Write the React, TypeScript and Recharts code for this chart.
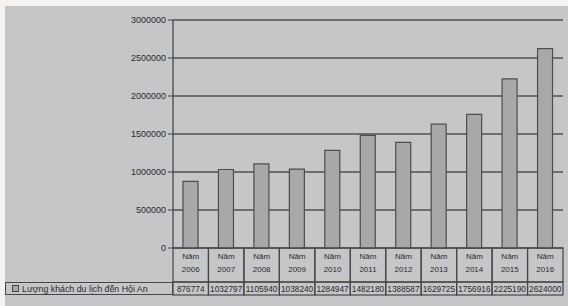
import React from 'react';
import { BarChart, Bar, XAxis, YAxis, CartesianGrid, Legend } from 'recharts';

const years = ['2006', '2007', '2008', '2009', '2010', '2011', '2012', '2013', '2014', '2015', '2016'];
const visitors = [876774, 1032797, 1105940, 1038240, 1284947, 1482180, 1388587, 1629725, 1756916, 2225190, 2624000];
const yTicks = [0, 500000, 1000000, 1500000, 2000000, 2500000, 3000000];
const seriesName = 'Lượng khách du lịch đến Hội An';
const yearPrefix = 'Năm';

const data = years.map((y, i) => ({ year: y, value: visitors[i] }));

const W = 568;
const H = 306;
const PLOT_LEFT = 173;
const PLOT_RIGHT = 563;
const PLOT_TOP = 20;
const PLOT_BOTTOM = 248;
const XAXIS_H = 48;
const BAND = (PLOT_RIGHT - PLOT_LEFT) / years.length;
const ROW1 = 34;
const ROW2 = 13;
const LINE = '#474747';
const TEXT = '#2b2b2b';
const FONT = '"Liberation Sans", Arial, sans-serif';

const TableTick = (props: any) => {
  const { x, y, payload } = props;
  const idx = years.indexOf(String(payload.value));
  const left = x - BAND / 2;
  return (
    <g>
      <rect x={left} y={y} width={BAND} height={ROW1} fill="none" stroke={LINE} strokeWidth={1.2} />
      <rect x={left} y={y + ROW1} width={BAND} height={ROW2} fill="none" stroke={LINE} strokeWidth={1.2} />
      <text x={x} y={y + 11} textAnchor="middle" fontSize={8} fill={TEXT} fontFamily={FONT}>
        {yearPrefix}
      </text>
      <text x={x} y={y + 24} textAnchor="middle" fontSize={8} fill={TEXT} fontFamily={FONT}>
        {payload.value}
      </text>
      <text x={x} y={y + ROW1 + 10} textAnchor="middle" fontSize={8.3} fill={TEXT} fontFamily={FONT}>
        {idx >= 0 ? visitors[idx] : ''}
      </text>
    </g>
  );
};

const LegendCell = () => (
  <div
    style={{
      boxSizing: 'border-box',
      width: 168,
      height: ROW2,
      border: `1.2px solid ${LINE}`,
      display: 'flex',
      alignItems: 'center',
      fontFamily: FONT,
      fontSize: 8.8,
      color: TEXT,
      paddingLeft: 6,
      whiteSpace: 'nowrap',
    }}
  >
    <span
      style={{
        display: 'inline-block',
        width: 5,
        height: 5,
        border: `1px solid ${LINE}`,
        background: '#a6a8aa',
        marginRight: 3,
      }}
    />
    {seriesName}
  </div>
);

export default function App() {
  return (
    <div style={{ position: 'fixed', left: 0, top: 0, width: W, height: H, background: '#f6f2f0', overflow: 'hidden' }}>
      <div style={{ position: 'absolute', left: 5, top: 6, right: 0, bottom: 0, background: '#c4c6c8' }} />
      <div style={{ position: 'absolute', left: 0, top: 0 }}>
        <BarChart
          width={W}
          height={H}
          data={data}
          margin={{ top: PLOT_TOP, right: W - PLOT_RIGHT, left: 0, bottom: H - PLOT_BOTTOM - XAXIS_H }}
        >
          <CartesianGrid vertical={false} stroke="#505050" strokeWidth={1.4} yAxisId="l" />
          <XAxis
            dataKey="year"
            height={XAXIS_H}
            interval={0}
            tickLine={false}
            tickSize={0}
            tickMargin={0}
            axisLine={false}
            tick={<TableTick />}
          />
          <YAxis
            yAxisId="l"
            width={PLOT_LEFT}
            domain={[0, 3000000]}
            ticks={yTicks}
            interval={0}
            axisLine={{ stroke: LINE, strokeWidth: 1.3 }}
            tickLine={{ stroke: LINE }}
            tickSize={5}
            tickMargin={2}
            tick={{ fontSize: 9, fill: TEXT, fontFamily: FONT }}
          />
          <YAxis
            yAxisId="r"
            orientation="right"
            width={0}
            domain={[0, 3000000]}
            tick={false}
            tickLine={false}
            axisLine={{ stroke: LINE, strokeWidth: 1.3 }}
          />
          <Legend
            layout="vertical"
            align="center"
            verticalAlign="middle"
            wrapperStyle={{ left: 5, top: PLOT_BOTTOM + ROW1, width: 168, height: ROW2 }}
            content={<LegendCell />}
          />
          <Bar
            yAxisId="l"
            dataKey="value"
            name={seriesName}
            barSize={15}
            fill="#a6a8aa"
            stroke="#4e4e4e"
            strokeWidth={1.2}
            isAnimationActive={false}
          />
        </BarChart>
      </div>
    </div>
  );
}
